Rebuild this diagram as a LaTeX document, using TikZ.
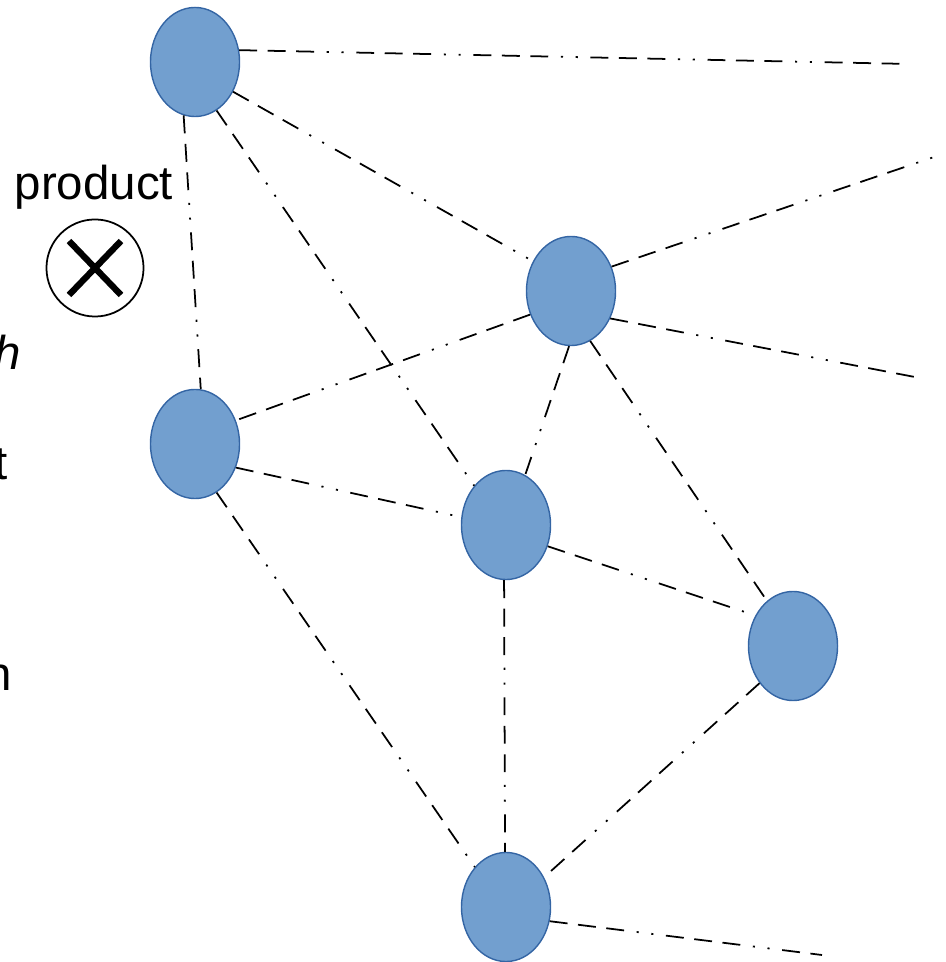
\documentclass[tikz,border=0pt]{standalone}
\usepackage{fontspec}
\setmainfont{Liberation Sans}
\usepackage{tikz}
\usetikzlibrary{shapes.geometric}
\definecolor{nodefill}{HTML}{729FCF}
\definecolor{nodeline}{HTML}{3465A4}

\begin{document}
\begin{tikzpicture}[x=0.01cm,y=-0.01cm,
        vertex/.style={ellipse,fill=nodefill,draw=nodeline,line width=0.4pt,
          minimum width=0.89cm,minimum height=1.09cm,inner sep=0pt},
        link/.style={line width=0.5pt,dash pattern=on 5.1pt off 3pt on 5.1pt off 3pt
          on 5.1pt off 3.6pt on 0.6pt off 3.6pt on 0.6pt off 3.6pt},
        lbl/.style={font=\fontsize{13.5pt}{16pt}\selectfont,inner sep=0pt}]
      \useasboundingbox (0,0) rectangle (945,962);
      %% vertices
      \node[vertex] (v_0) at (195,62) {};
      \node[vertex] (v_1) at (571,291) {};
      \node[vertex] (v_2) at (195,444) {};
      \node[vertex] (v_3) at (506,525) {};
      \node[vertex] (v_4) at (793,646) {};
      \node[vertex] (v_5) at (506,907) {};
      %% open ends
      \coordinate (e_0) at (910,64);
      \coordinate (e_1) at (940,155);
      \coordinate (e_2) at (920,378);
      \coordinate (e_3) at (822,955);
      \path[link] (v_0.15) edge (e_0)
      (v_0.-38) edge (v_1.142)
      (v_0.-102) edge (v_2.84)
      (v_0.-66) edge (v_3.129)
      (v_1.31) edge (e_1)
      (v_1.-35) edge (e_2)
      (v_1.210) edge (v_2.30)
      (v_1.-92) edge (v_3.69)
      (v_1.-69) edge (v_4.120)
      (v_2.-30) edge (v_3.170)
      (v_2.-66) edge (v_5.128)
      (v_3.-27) edge (v_4.141)
      (v_3.-92) edge (v_5.91)
      (v_4.228) edge (v_5.38)
      (v_5.-18) edge (e_3);
      %% left labels
      \node[lbl,anchor=base west] (prod) at (14,200) {product};
      \node[draw,circle,line width=0.5pt,minimum size=0.97cm] (op) at (95,268) {};
      \draw[line width=1.8pt] (op.center) ++(-26,-27) -- ++(52,54);
      \draw[line width=1.8pt] (op.center) ++(-26,27) -- ++(52,-54);
      \node[lbl,anchor=base east] (l_h) at (22,370) {\itshape h};
      \node[lbl,anchor=base east] (l_t) at (8,480) {t};
      \node[lbl,anchor=base east] (l_n) at (13,690) {n};
    \end{tikzpicture}
\end{document}
